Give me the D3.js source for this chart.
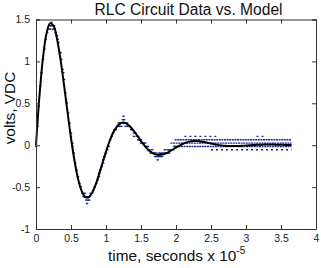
<!DOCTYPE html>
<html>
<head>
<meta charset="utf-8">
<script src="https://cdn.jsdelivr.net/npm/d3@7/dist/d3.min.js"></script>
<style>
  html, body { margin: 0; padding: 0; background: #fff; }
  svg { display: block; font-family: Arial, "Liberation Sans", sans-serif; }
</style>
</head>
<body>
<svg id="chart" width="321" height="268"></svg>
<script>
// ---- data ----
const chartTitle = "RLC Circuit Data vs. Model";
const xTicks = [0, 0.5, 1, 1.5, 2, 2.5, 3, 3.5, 4];
const yTicks = [-1, -0.5, 0, 0.5, 1, 1.5];

// model curve (time in 1e-5 s, volts)
const modelTime = [0,0.05,0.1,0.15,0.2,0.25,0.3,0.35,0.4,0.45,0.5,0.55,0.6,0.65,0.7,0.75,0.8,0.85,0.9,0.95,
  1,1.05,1.1,1.15,1.2,1.25,1.3,1.35,1.4,1.45,1.5,1.55,1.6,1.65,1.7,1.75,1.8,1.85,1.9,1.95,
  2,2.05,2.1,2.15,2.2,2.25,2.3,2.35,2.4,2.45,2.5,2.55,2.6,2.65,2.7,2.75,2.8,2.85,2.9,2.95,
  3,3.05,3.1,3.15,3.2,3.25,3.3,3.35,3.4,3.45,3.5,3.55,3.6,3.65];
const modelVolts = [0,0.594,1.046,1.333,1.454,1.426,1.269,1.023,0.720,0.397,0.086,-0.185,-0.399,-0.541,-0.616,-0.622,-0.571,-0.476,-0.350,-0.212,
  -0.076,0.047,0.146,0.216,0.258,0.270,0.255,0.218,0.167,0.109,0.049,-0.005,-0.051,-0.085,-0.107,-0.116,-0.112,-0.099,-0.079,-0.054,
  -0.029,-0.005,0.017,0.033,0.044,0.049,0.049,0.045,0.038,0.030,0.021,0.012,0.004,-0.002,-0.006,-0.009,-0.010,-0.010,-0.009,-0.007,
  -0.004,-0.001,0.002,0.004,0.006,0.007,0.008,0.008,0.007,0.006,0.005,0.003,0.002,0.001];

// measured samples (quantized scope data)
const dataTime = [0,0.02,0.04,0.06,0.08,0.1,0.12,0.14,0.16,0.18,0.2,0.22,0.24,0.26,0.28,0.3,0.32,0.34,0.36,0.38,
  0.4,0.42,0.44,0.46,0.48,0.5,0.52,0.54,0.56,0.58,0.6,0.62,0.64,0.66,0.68,0.7,0.72,0.74,0.76,0.78,
  0.8,0.82,0.84,0.86,0.88,0.9,0.92,0.94,0.96,0.98,1,1.02,1.04,1.06,1.08,1.1,1.12,1.14,1.16,1.18,
  1.2,1.22,1.24,1.26,1.28,1.3,1.32,1.34,1.36,1.38,1.4,1.42,1.44,1.46,1.48,1.5,1.52,1.54,1.56,1.58,
  1.6,1.62,1.64,1.66,1.68,1.7,1.72,1.74,1.76,1.78,1.8,1.82,1.84,1.86,1.88,1.9,1.92,1.94,1.96,1.98,2,
  0.22,0.24,0.26,0.2,0.7,0.72,0.74,0.76,0.68,0.73,1.22,1.24,1.26,1.25,1.28,1.3,1.18,1.2,
  1.72,1.74,1.76,1.78,1.7,1.66,1.8,1.84,1.9,1.6,1.56,1.5,1.46,1.4,0.5,0.52,0.9,0.96,0.31,0.35,0.39,0.43];
const dataVolts = [-0.015,0.225,0.465,0.705,0.865,1.025,1.145,1.265,1.345,1.385,1.425,1.465,1.425,1.425,1.345,1.305,1.225,1.105,1.025,0.905,
  0.785,0.625,0.505,0.385,0.265,0.145,0.025,-0.095,-0.215,-0.295,-0.375,-0.455,-0.495,-0.575,-0.615,-0.615,-0.655,-0.655,-0.615,-0.575,
  -0.575,-0.535,-0.495,-0.455,-0.415,-0.335,-0.295,-0.255,-0.175,-0.135,-0.095,-0.055,-0.015,0.065,0.105,0.145,0.185,0.185,0.225,0.265,
  0.225,0.265,0.305,0.265,0.265,0.225,0.225,0.225,0.185,0.185,0.145,0.145,0.105,0.105,0.065,0.065,0.025,0.025,-0.015,-0.015,
  -0.055,-0.055,-0.095,-0.095,-0.095,-0.135,-0.135,-0.135,-0.095,-0.135,-0.095,-0.095,-0.095,-0.095,-0.055,-0.095,-0.055,-0.055,-0.055,-0.015,-0.015,
  1.425,1.385,1.385,1.385,-0.575,-0.615,-0.615,-0.655,-0.575,-0.695,0.225,0.265,0.305,0.345,0.225,0.265,0.225,0.265,
  -0.095,-0.175,-0.135,-0.095,-0.095,-0.055,-0.135,-0.055,-0.055,-0.015,0.025,0.025,0.065,0.105,0.105,-0.015,-0.375,-0.215,1.265,1.105,0.865,0.545];

// settled tail: runs of samples at one quantization level
const runStart = [2.12, 3.15, 1.98, 1.92, 1.96, 2.5];
const runEnd   = [2.6, 3.27, 3.65, 3.65, 3.65, 3.65];
const runLevel = [0.105, 0.105, 0.065, 0.025, -0.015, -0.055];

// ---- drawing ----
const svg = d3.select("#chart");
const x = d3.scaleLinear().domain([0, 4]).range([36, 316]);
const y = d3.scaleLinear().domain([-1, 1.5]).range([229, 19.5]);
const fmt = d => String(d).replace("\u2212", "-");
const navy = "#1b2a8a";

// box background
svg.append("rect").attr("x", x(0)).attr("y", y(1.5))
  .attr("width", x(4) - x(0)).attr("height", y(-1) - y(1.5)).attr("fill", "#fff");

// tail runs
const runs = d3.range(runStart.length).map(i => ({ a: runStart[i], b: runEnd[i], v: runLevel[i] }));
svg.append("g").selectAll("line").data(runs).join("line")
  .attr("x1", d => x(d.a)).attr("x2", d => x(d.b))
  .attr("y1", d => y(d.v)).attr("y2", d => y(d.v))
  .attr("stroke", navy).attr("stroke-width", 1.4)
  .attr("stroke-dasharray", d => (d.v > 0.09 || d.v < -0.04) ? "2,3" : "2,0.6");

// samples
const pts = dataTime.map((t, i) => ({ t, v: dataVolts[i] }));
svg.append("g").selectAll("rect").data(pts).join("rect")
  .attr("x", d => x(d.t) - 1.2).attr("y", d => y(d.v) - 0.7)
  .attr("width", 2.4).attr("height", 1.4).attr("fill", navy);

// model line
const model = modelTime.map((t, i) => ({ t, v: modelVolts[i] }));
svg.append("path").datum(model)
  .attr("fill", "none").attr("stroke", "#000").attr("stroke-width", 2)
  .attr("d", d3.line().x(d => x(d.t)).y(d => y(d.v)).curve(d3.curveCatmullRom));

// axes
function styleAxis(g) {
  g.selectAll(".domain").attr("stroke", "#333");
  g.selectAll(".tick line").attr("stroke", "#333");
  g.selectAll("text").attr("fill", "#222").attr("font-size", "10.5px")
    .attr("font-family", "Arial, 'Liberation Sans', sans-serif");
}
svg.append("g").attr("transform", `translate(0,${y(-1)})`)
  .call(d3.axisBottom(x).tickValues(xTicks).tickSize(-4).tickPadding(6).tickFormat(fmt))
  .call(styleAxis);
svg.append("g").attr("transform", `translate(0,${y(1.5)})`)
  .call(d3.axisTop(x).tickValues(xTicks).tickSize(-4).tickFormat(""))
  .call(styleAxis);
svg.append("g").attr("transform", `translate(${x(0)},0)`)
  .call(d3.axisLeft(y).tickValues(yTicks).tickSize(-4).tickPadding(6).tickFormat(fmt))
  .call(styleAxis);
svg.append("g").attr("transform", `translate(${x(4)},0)`)
  .call(d3.axisRight(y).tickValues(yTicks).tickSize(-4).tickFormat(""))
  .call(styleAxis);

// title and labels
svg.append("text").attr("x", 188.5).attr("y", 14.5).attr("text-anchor", "middle")
  .attr("font-size", "15.6px").attr("fill", "#111").text(chartTitle);

const xl = svg.append("text").attr("x", 108).attr("y", 261).attr("font-size", "15.4px").attr("fill", "#111");
xl.append("tspan").text("time, seconds x 10");
xl.append("tspan").attr("dy", -7).attr("font-size", "10px").text("-5");

svg.append("text").attr("transform", "translate(15,108) rotate(-90)")
  .attr("text-anchor", "middle").attr("font-size", "15.4px").attr("fill", "#111").text("volts, VDC");
</script>
</body>
</html>
